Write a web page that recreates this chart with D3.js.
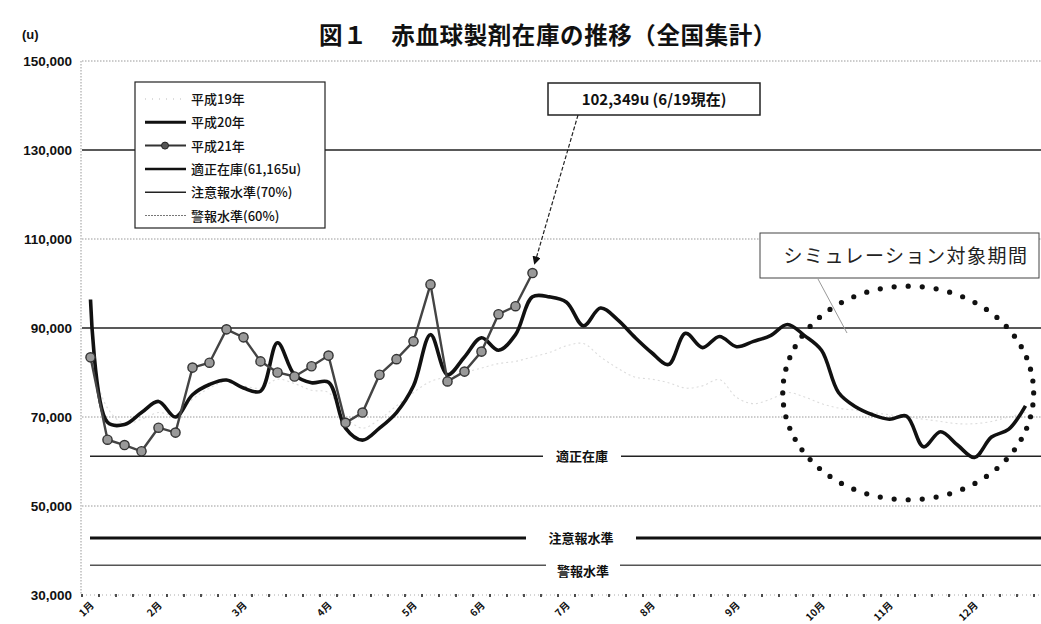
<!DOCTYPE html>
<html><head><meta charset="utf-8">
<script src="https://cdn.jsdelivr.net/npm/d3@7"></script>
<style>body{margin:0;background:#fff;} svg{display:block;}</style>
</head><body>
<svg id="chart" width="1041" height="624"></svg>
<script>
// ---------- data ----------
const weeks = d3.range(1, 57).map(i => "第" + i + "週");
const monthLabels = ["1月","2月","3月","4月","5月","6月","7月","8月","9月","10月","11月","12月"];
const monthWeek = [0,4,9,14,19,23,28,33,38,43,47,52];
const yTicks = [30000,50000,70000,90000,110000,130000,150000];
const yTickLabels = ["30,000","50,000","70,000","90,000","110,000","130,000","150,000"];
const solidGrid = [90000,130000];
const dottedGrid = [50000,70000,110000,150000];

const h19 = [83000,72000,68500,69500,71000,70500,74000,76500,78000,77000,76500,78500,77500,76000,75500,70000,
  67500,69500,72500,75500,78000,79000,80000,81000,82000,82500,83500,84500,86000,86500,83500,81000,
  79000,78500,77700,76500,77000,78400,74400,73000,74000,75500,74500,73000,72000,71500,71000,70500,
  70000,69500,69000,68500,68500,69000,70000,71000];
const h20 = [96400,68800,68300,71000,73500,70000,75000,77300,78300,76500,75800,86700,79500,77700,77800,67500,
  64800,67500,71000,77000,88500,79500,83500,87800,85000,88500,97000,97000,95800,90500,94500,91900,
  88000,84500,81800,88800,85600,88100,85800,87000,88300,90800,88300,85000,75500,72300,70500,69500,
  70200,63300,66700,63700,60900,65500,67200,72500];
const h21 = [83400,64900,63700,62300,67600,66500,81100,82200,89700,87900,82500,80000,79100,81400,83800,68700,
  71000,79500,83000,87000,99800,78000,80200,84700,93100,94900,102349];

const appropriateStock = 61165;
const cautionLevel = appropriateStock * 0.7;
const warningLevel = appropriateStock * 0.6;
const latestLabel = "102,349u (6/19現在)";
const simLabel = "シミュレーション対象期間";
const simEllipse = {week: 48.1, value: 75400, rxWeeks: 7.38, ryValue: 24000, dots: 56};

const legendItems = [
  {label: "平成19年", key: "h19"},
  {label: "平成20年", key: "h20"},
  {label: "平成21年", key: "h21"},
  {label: "適正在庫(61,165u)", key: "app"},
  {label: "注意報水準(70%)", key: "cau"},
  {label: "警報水準(60%)", key: "warn"}
];

// ---------- chart ----------
(function () {
const svg = d3.select("#chart");
const W = 1041;
const pLeft = 82, pRight = 1034, pTop = 61, pBottom = 595;
const x = d3.scaleBand().domain(d3.range(weeks.length)).range([pLeft, pRight]);
const cx = i => x(i) + x.bandwidth() / 2;
const y = d3.scaleLinear().domain([30000, 150000]).range([pBottom, pTop]);
const JP = "'Noto Sans CJK JP','Noto Sans',sans-serif";
const LAT = "'Liberation Sans',Arial,sans-serif";

svg.append("rect").attr("width", W).attr("height", 624).attr("fill", "#fff");

// title
svg.append("text").attr("x", 548).attr("y", 44).attr("text-anchor", "middle")
  .attr("font-family", JP).attr("font-weight", 700).attr("font-size", 23.5).attr("letter-spacing", 0.6)
  .attr("fill", "#111")
  .text("図１　赤血球製剤在庫の推移（全国集計）");
svg.append("text").attr("x", 22).attr("y", 39).attr("font-family", LAT).attr("font-weight", 700)
  .attr("font-size", 13).attr("fill", "#111").text("(u)");

// gridlines
svg.append("g").selectAll("line").data(dottedGrid).join("line")
  .attr("x1", pLeft).attr("x2", W).attr("y1", d => y(d)).attr("y2", d => y(d))
  .attr("stroke", "#999").attr("stroke-width", 1).attr("stroke-dasharray", "1.5,1.5");
svg.append("g").selectAll("line").data(solidGrid).join("line")
  .attr("x1", pLeft).attr("x2", W).attr("y1", d => y(d)).attr("y2", d => y(d))
  .attr("stroke", "#222").attr("stroke-width", 1.6);

// y axis
svg.append("line").attr("x1", pLeft - 1).attr("x2", pLeft - 1).attr("y1", pTop).attr("y2", pBottom)
  .attr("stroke", "#999").attr("stroke-dasharray", "1.5,1.5");
svg.append("g").selectAll("text").data(yTicks).join("text")
  .attr("x", 72).attr("y", d => y(d) + 5).attr("text-anchor", "end")
  .attr("font-family", LAT).attr("font-weight", 700).attr("font-size", 13.5).attr("fill", "#111")
  .text((d, i) => yTickLabels[i]);

// x axis
svg.append("line").attr("x1", pLeft).attr("x2", W).attr("y1", pBottom).attr("y2", pBottom)
  .attr("stroke", "#aaa").attr("stroke-dasharray", "1,3");
svg.append("g").selectAll("line").data(d3.range(weeks.length + 1)).join("line")
  .attr("x1", i => pLeft + i * x.step()).attr("x2", i => pLeft + i * x.step())
  .attr("y1", pBottom - 1).attr("y2", pBottom + 2).attr("stroke", "#222").attr("stroke-width", 1.6);
svg.append("g").selectAll("text").data(monthLabels).join("text")
  .attr("transform", (d, i) => `translate(${cx(monthWeek[i]) + 4},${pBottom + 11}) rotate(-45)`)
  .attr("text-anchor", "end").attr("font-family", JP).attr("font-weight", 700).attr("font-size", 10)
  .attr("fill", "#111").text(d => d);

// reference levels
const refs = [
  {v: appropriateStock, label: "適正在庫", w: 1.5, color: "#222", gap: [543, 621], dy: 0},
  {v: cautionLevel, label: "注意報水準", w: 3, color: "#111", gap: [526, 636], dy: 0},
  {v: warningLevel, label: "警報水準", w: 1.5, color: "#555", gap: [546, 620], dy: 6}
];
refs.forEach(r => {
  svg.append("line").attr("x1", pLeft + 8).attr("x2", r.gap[0]).attr("y1", y(r.v)).attr("y2", y(r.v))
    .attr("stroke", r.color).attr("stroke-width", r.w);
  svg.append("line").attr("x1", r.gap[1]).attr("x2", W).attr("y1", y(r.v)).attr("y2", y(r.v))
    .attr("stroke", r.color).attr("stroke-width", r.w);
  svg.append("text").attr("x", (r.gap[0] + r.gap[1]) / 2).attr("y", y(r.v) + r.dy + 5)
    .attr("text-anchor", "middle").attr("font-family", JP).attr("font-weight", 700)
    .attr("font-size", 13).attr("fill", "#111").text(r.label);
});

// series
const smooth = d3.line().x((d, i) => cx(i)).y(d => y(d)).curve(d3.curveCatmullRom.alpha(0.5));
svg.append("path").datum(h19).attr("d", smooth).attr("fill", "none")
  .attr("stroke", "#dcdcdc").attr("stroke-width", 1.1).attr("stroke-dasharray", "2,3");
svg.append("path").datum(h20).attr("d", smooth).attr("fill", "none")
  .attr("stroke", "#111").attr("stroke-width", 3.6).attr("stroke-linejoin", "round");
const straight = d3.line().x((d, i) => cx(i)).y(d => y(d));
svg.append("path").datum(h21).attr("d", straight).attr("fill", "none")
  .attr("stroke", "#444").attr("stroke-width", 2.4);
svg.append("g").selectAll("circle").data(h21).join("circle")
  .attr("cx", (d, i) => cx(i)).attr("cy", d => y(d)).attr("r", 4.6)
  .attr("fill", "#999").attr("stroke", "#333").attr("stroke-width", 1.4);

// simulation ellipse of dots
const ecx = cx(0) + simEllipse.week * x.step();
const ecy = y(simEllipse.value);
const erx = simEllipse.rxWeeks * x.step();
const ery = y(0) - y(simEllipse.ryValue);
svg.append("g").selectAll("circle").data(d3.range(simEllipse.dots)).join("circle")
  .attr("cx", k => ecx + erx * Math.cos(2 * Math.PI * k / simEllipse.dots))
  .attr("cy", k => ecy + ery * Math.sin(2 * Math.PI * k / simEllipse.dots))
  .attr("r", 2.6).attr("fill", "#111");

// simulation callout
svg.append("line").attr("x1", 818).attr("y1", 279).attr("x2", 847).attr("y2", 333)
  .attr("stroke", "#999").attr("stroke-width", 1);
svg.append("rect").attr("x", 760).attr("y", 233).attr("width", 279).attr("height", 45)
  .attr("fill", "#fff").attr("stroke", "#444").attr("stroke-width", 1);
svg.append("text").attr("x", 906).attr("y", 263).attr("text-anchor", "middle")
  .attr("font-family", JP).attr("font-weight", 400).attr("font-size", 19).attr("letter-spacing", 1.5)
  .attr("fill", "#222").text(simLabel);

// latest value callout
const defs = svg.append("defs");
defs.append("marker").attr("id", "arrow").attr("viewBox", "0 0 10 10").attr("refX", 9).attr("refY", 5)
  .attr("markerWidth", 7).attr("markerHeight", 7).attr("orient", "auto")
  .append("path").attr("d", "M0,0L10,5L0,10z").attr("fill", "#111");
const lastI = h21.length - 1;
svg.append("line").attr("x1", 578).attr("y1", 115).attr("x2", cx(lastI) + 2).attr("y2", y(h21[lastI]) - 9)
  .attr("stroke", "#222").attr("stroke-width", 1.2).attr("stroke-dasharray", "4,2")
  .attr("marker-end", "url(#arrow)");
svg.append("rect").attr("x", 548).attr("y", 83).attr("width", 212).attr("height", 32)
  .attr("fill", "#fff").attr("stroke", "#222").attr("stroke-width", 1.5);
svg.append("text").attr("x", 654).attr("y", 105).attr("text-anchor", "middle")
  .attr("font-family", JP).attr("font-weight", 700).attr("font-size", 15).attr("fill", "#111")
  .text(latestLabel);

// legend
const lg = svg.append("g");
lg.append("rect").attr("x", 135).attr("y", 82).attr("width", 190).attr("height", 146)
  .attr("fill", "#fff").attr("stroke", "#222").attr("stroke-width", 1.2);
const rowY = i => 99 + i * 23.3;
const legendStyle = {
  h19: {c: "#bbb", w: 1, dash: "1,6"},
  h20: {c: "#111", w: 3, dash: null},
  h21: {c: "#333", w: 2, dash: null},
  app: {c: "#111", w: 2.5, dash: null},
  cau: {c: "#222", w: 1.5, dash: null},
  warn: {c: "#777", w: 1.2, dash: "2,1"}
};
legendItems.forEach((it, i) => {
  const s = legendStyle[it.key];
  lg.append("line").attr("x1", 145).attr("x2", 186).attr("y1", rowY(i)).attr("y2", rowY(i))
    .attr("stroke", s.c).attr("stroke-width", s.w).attr("stroke-dasharray", s.dash);
  if (it.key === "h21") lg.append("circle").attr("cx", 165).attr("cy", rowY(i)).attr("r", 3.5)
    .attr("fill", "#555").attr("stroke", "#222");
  lg.append("text").attr("x", 191).attr("y", rowY(i) + 5).attr("font-family", JP)
    .attr("font-weight", 500).attr("font-size", 13).attr("fill", "#111").text(it.label);
});
})();
</script>
</body></html>
